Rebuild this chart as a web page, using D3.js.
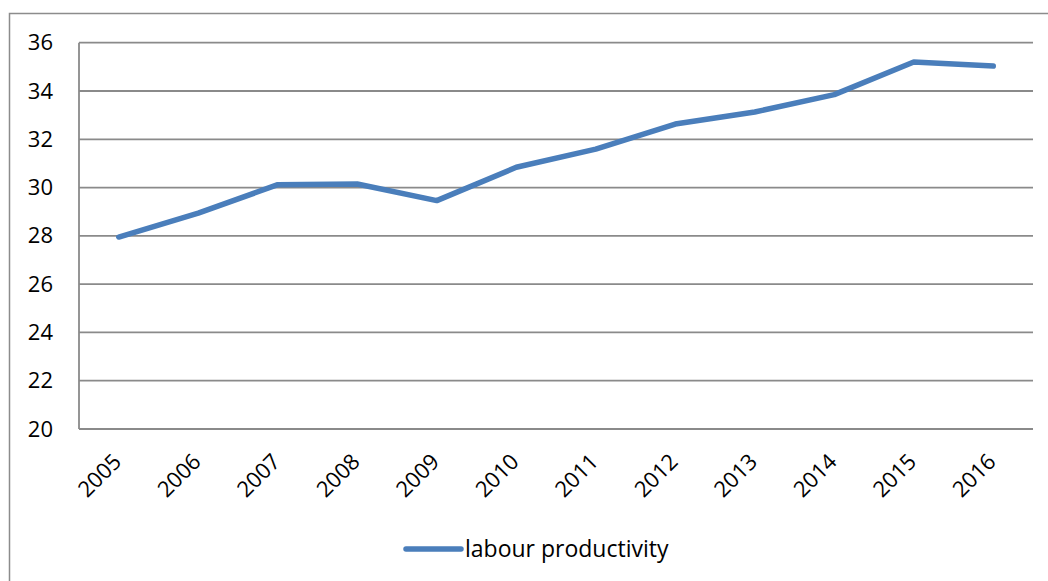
<!DOCTYPE html>
<html>
<head>
<meta charset="utf-8">
<script src="https://cdn.jsdelivr.net/npm/d3@7"></script>
<style>
  body { margin: 0; background: #fff; }
  svg text { font-family: "Open Sans", sans-serif; fill: #000; }
</style>
</head>
<body>
<div id="chart"></div>
<script>
// labour productivity by year
var years = ["2005", "2006", "2007", "2008", "2009", "2010", "2011", "2012", "2013", "2014", "2015", "2016"]
var productivity = [27.95, 28.94, 30.12, 30.15, 29.46, 30.84, 31.59, 32.63, 33.13, 33.85, 35.2, 35.03]
var yTicks = [20, 22, 24, 26, 28, 30, 32, 34, 36]
var seriesName = "labour productivity"

var W = 1048, H = 581
var margin = {left: 79, right: 15, top: 42.7, bottom: 152}
var blue = "#4a7ebb"
var fontSize = '22px'

var svg = d3.select('#chart').append('svg')
  .attr('width', W).attr('height', H)

// outer chart border (runs off the right and bottom of the picture)
svg.append('rect')
  .attr('x', 9.5).attr('y', 13.5)
  .attr('width', W).attr('height', H)
  .attr('fill', 'none').attr('stroke', '#8c8c8c').attr('stroke-width', 1.5)

var x = d3.scaleBand()
  .domain(years)
  .range([margin.left, 1033])

var y = d3.scaleLinear()
  .domain([20, 36])
  .range([429, margin.top])

// gridlines
svg.append('g').selectAll('line')
  .data(yTicks)
  .enter().append('line')
  .attr('x1', margin.left).attr('x2', 1033)
  .attr('y1', d => y(d)).attr('y2', d => y(d))
  .attr('stroke', '#8a8a8a').attr('stroke-width', 1.8)

// left axis line
svg.append('line')
  .attr('x1', margin.left).attr('x2', margin.left)
  .attr('y1', y(36)).attr('y2', y(20))
  .attr('stroke', '#8a8a8a').attr('stroke-width', 1.8)

// y labels
var yAxis = d3.axisLeft(y).tickValues(yTicks).tickSize(0).tickPadding(26)
svg.append('g')
  .attr('transform', 'translate(' + margin.left + ',0)')
  .call(yAxis)
  .call(g => g.select('.domain').remove())
  .selectAll('text')
  .style('font-size', fontSize)
  .style('font-family', '"Open Sans", sans-serif')
  .attr('fill', '#000')

// x labels, rotated
svg.append('g').selectAll('text')
  .data(years)
  .enter().append('text')
  .attr('transform', d => 'translate(' + (x(d) + x.bandwidth() / 2 + 4) + ',463) rotate(-45)')
  .attr('text-anchor', 'end')
  .style('font-size', fontSize)
  .text(d => d)

// the line
var line = d3.line()
  .x((d, i) => x(years[i]) + x.bandwidth() / 2)
  .y(d => y(d))

svg.append('path')
  .datum(productivity)
  .attr('d', line)
  .attr('fill', 'none')
  .attr('stroke', blue)
  .attr('stroke-width', 5.5)
  .attr('stroke-linejoin', 'round')
  .attr('stroke-linecap', 'round')

// legend
var leg = svg.append('g').attr('transform', 'translate(406,549)')
leg.append('line')
  .attr('x1', 0).attr('x2', 55)
  .attr('stroke', blue).attr('stroke-width', 5.5).attr('stroke-linecap', 'round')
leg.append('text')
  .attr('x', 59).attr('y', 8)
  .style('font-size', '23px')
  .text(seriesName)
</script>
</body>
</html>
